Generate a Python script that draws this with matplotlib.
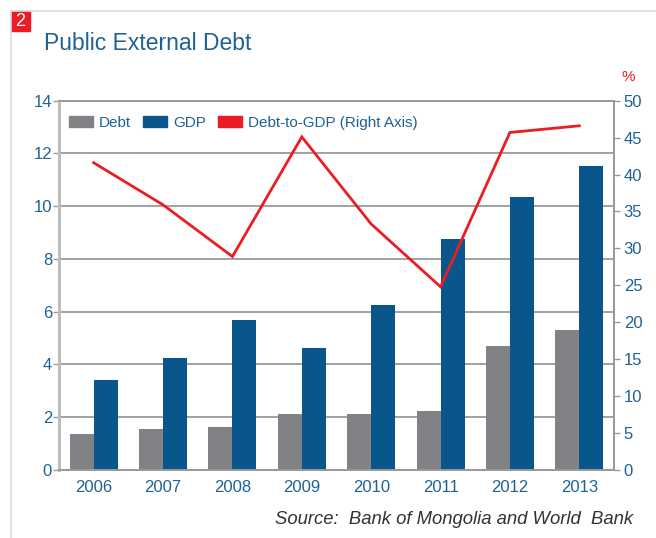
import numpy as np
import matplotlib
matplotlib.use("Agg")
import matplotlib.pyplot as plt
from matplotlib.patches import Patch, Rectangle
from matplotlib.lines import Line2D

plt.rcParams['font.family'] = ['Liberation Sans Narrow', 'Liberation Sans', 'DejaVu Sans']

years = ['2006', '2007', '2008', '2009', '2010', '2011', '2012', '2013']
debt = [1.37, 1.56, 1.64, 2.11, 2.11, 2.25, 4.70, 5.31]
gdp = [3.41, 4.25, 5.69, 4.62, 6.25, 8.76, 10.35, 11.52]
debt_to_gdp = [41.6, 35.9, 28.9, 45.1, 33.3, 24.8, 45.7, 46.6]

c_debt = '#808285'
c_gdp = '#08568b'
c_ratio = '#ec1c24'
c_text = '#1f6196'
c_grid = '#9a9a9a'

fig = plt.figure(figsize=(6.56, 5.38), dpi=100)
ax = fig.add_axes([59/656, 1 - 470/538, (614 - 59)/656, (470 - 100.7)/538])
ax2 = ax.twinx()

x = np.arange(len(years))
w = 0.346
ax.bar(x - w/2, debt, w, color=c_debt, zorder=2)
ax.bar(x + w/2, gdp, w, color=c_gdp, zorder=2)
ax2.plot(x, debt_to_gdp, color=c_ratio, lw=2.0, solid_joinstyle='miter')

ax.set_xlim(-0.5, len(years) - 0.5)
ax.set_ylim(0, 14)
ax2.set_ylim(0, 50)
ax.set_yticks(np.arange(0, 15, 2))
ax2.set_yticks(np.arange(0, 51, 5))
ax.set_xticks(x)
ax.set_xticklabels(years)

ax.yaxis.grid(True, color=c_grid, lw=1.3)
ax.set_axisbelow(True)

for a in (ax, ax2):
    for s in a.spines.values():
        s.set_color(c_grid)
        s.set_linewidth(1.3)
    a.spines['left'].set_color('#bdbdbd')
    a.spines['left'].set_linewidth(2)
    a.tick_params(colors=c_grid, labelcolor=c_text, labelsize=12, length=4, width=1)
ax.tick_params(axis='x', length=0, pad=7)
ax.tick_params(axis='y', pad=1)
ax2.tick_params(axis='y', pad=3)

handles = [Patch(color=c_debt), Patch(color=c_gdp), Patch(color=c_ratio)]
labels = ['Debt', 'GDP', 'Debt-to-GDP (Right Axis)']
leg = ax2.legend(handles, labels, loc='upper left', ncol=3, frameon=False,
                 fontsize=11, handlelength=1.55, handleheight=0.7,
                 handletextpad=0.4, columnspacing=0.8,
                 bbox_to_anchor=(0.0, 0.985), borderaxespad=0.25)
for t in leg.get_texts():
    t.set_color(c_text)

# header block and frame
fig.add_artist(Line2D([11/656, 1], [1 - 11/538, 1 - 11/538], color='#d3dde8', lw=1.2))
fig.add_artist(Line2D([11/656, 11/656], [0, 1 - 11/538], color='#d3dde8', lw=1.2))
fig.add_artist(Rectangle((11/656, 1 - 31/538), 19/656, 20/538, color='#ed1c24',
                         transform=fig.transFigure))
fig.text(20.5/656, 1 - 21/538, '2', color='white', fontsize=13,
         ha='center', va='center')
fig.text(44/656, 1 - 43/538, 'Public External Debt', color=c_text, fontsize=16.5,
         ha='left', va='center')
fig.text(628/656, 1 - 77/538, '%', color=c_ratio, fontsize=11,
         ha='center', va='center')
fig.text(633/656, 1 - 520/538, 'Source:  Bank of Mongolia and World  Bank',
         color='#333333', fontsize=13.3, style='italic', ha='right', va='center',
         family=['Liberation Sans', 'DejaVu Sans'])

fig.savefig('out.png', dpi=100)
